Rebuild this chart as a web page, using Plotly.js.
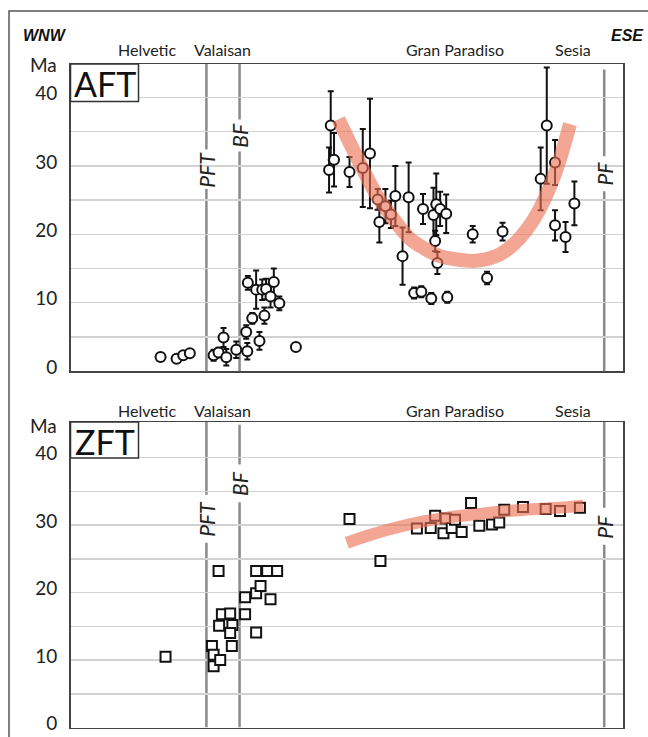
<!DOCTYPE html>
<html>
<head>
<meta charset="utf-8">
<script src="https://cdn.plot.ly/plotly-3.0.1.min.js"></script>
<style>html,body{margin:0;padding:0;background:#fff;}#chart{width:648px;height:737px;}</style>
</head>
<body>
<div id="chart"></div>
<script>
// ---------- data ----------
const regionNames = ['Helvetic', 'Valaisan', 'Gran Paradiso', 'Sesia'];
const regionX = [13.9, 27.5, 69.6, 91.0];

const faultNames = ['PFT', 'BF', 'PF'];
const faultX = [24.6, 30.6, 96.6];

const yTickVals = [0, 5, 10, 15, 20, 25, 30, 35, 40];
const yTickText = ['0', '', '10', '', '20', '', '30', '', '40'];

// AFT ages (Ma) with 1-sigma errors along the WNW-ESE profile
const aftX = [16.3, 19.2, 20.4, 21.6, 25.9, 26.8, 28.2, 27.7, 30.0, 32.0, 31.8, 32.9, 34.2, 35.1,
  32.1, 33.6, 34.7, 35.4, 36.2, 36.8, 37.8, 40.8,
  47.1, 46.8, 47.7, 50.5, 52.9, 54.2, 55.6, 55.9, 57.0, 58.0, 58.8, 61.2, 60.1, 63.8, 65.7, 66.2,
  66.0, 66.9, 68.0, 66.4, 62.2, 63.5, 65.3, 68.2, 72.8, 78.2, 75.4, 86.2, 85.1, 87.7, 87.7, 89.6, 91.2];
const aftAge = [2.05, 1.8, 2.3, 2.6, 2.3, 2.7, 2.0, 4.9, 3.1, 2.9, 5.7, 7.7, 4.4, 8.1,
  12.9, 11.9, 11.9, 12.0, 10.9, 13.0, 9.9, 3.5,
  35.9, 29.4, 30.9, 29.1, 29.7, 31.8, 25.1, 21.8, 24.1, 22.9, 25.6, 25.4, 16.8, 23.7, 22.8, 24.4,
  19.0, 23.7, 23.0, 15.8, 11.4, 11.6, 10.6, 10.8, 20.0, 20.4, 13.6, 35.9, 28.1, 30.5, 21.3, 19.6, 24.5];
const aftErr = [0, 0, 0, 0, 0.8, 0.7, 1.2, 1.4, 1.2, 1.2, 1.0, 0.8, 1.3, 1.2,
  1.0, 2.8, 1.5, 1.5, 1.6, 2.0, 1.0, 0,
  5.0, 3.3, 3.9, 2.2, 5.7, 8.0, 1.5, 3.0, 2.5, 2.0, 4.4, 5.1, 4.2, 2.2, 4.0, 4.5,
  1.5, 2.5, 2.8, 1.6, 0.8, 0.8, 0.8, 0.8, 1.2, 1.3, 0.9, 8.5, 4.6, 3.3, 2.2, 2.2, 3.2];

// AFT trend (orange band)
const aftTrendX = [48.5, 52.0, 55.5, 58.5, 61.5, 64.3, 66.9, 70.0, 72.9, 75.5, 77.8, 80.3, 82.6, 84.8, 86.8, 88.7, 90.4];
const aftTrendAge = [36.8, 31.0, 25.6, 22.2, 19.3, 17.8, 16.8, 16.3, 16.1, 16.4, 17.1, 18.6, 20.7, 23.5, 27.0, 31.3, 36.1];

// ZFT ages (Ma)
const zftX = [17.2, 26.8, 25.6, 25.9, 25.9, 27.1, 26.9, 27.4, 28.9, 29.3, 28.9, 29.2, 31.6, 31.6,
  33.6, 34.4, 36.2, 33.6, 33.6, 35.6, 37.4,
  50.5, 56.1, 62.7, 65.2, 66.0, 67.9, 67.5, 69.0, 69.6, 70.8, 72.5, 74.0, 76.3, 77.6, 78.5, 81.9, 86.0, 88.6, 92.2];
const zftAge = [10.5, 23.2, 12.1, 10.8, 9.1, 10.0, 15.1, 16.8, 16.9, 15.2, 14.0, 12.1, 19.3, 16.8,
  19.9, 21.0, 19.0, 14.1, 23.2, 23.2, 23.2,
  30.9, 24.7, 29.5, 29.6, 31.4, 31.0, 28.8, 29.6, 30.8, 29.0, 33.3, 29.9, 30.1, 30.4, 32.3, 32.7, 32.4, 32.1, 32.6];

// ZFT trend (orange band)
const zftTrendX = [50.0, 54.8, 59.7, 64.2, 68.7, 73.2, 77.8, 82.3, 86.8, 92.8];
const zftTrendAge = [27.4, 28.7, 29.8, 30.6, 31.2, 31.6, 32.0, 32.3, 32.5, 32.9];

// ---------- layout helpers ----------
const W = 648, H = 737;
const px = v => v / W;
const py = v => 1 - v / H;

const FONT = 'Lato, Roboto, "Open Sans", sans-serif';
const trendColor = 'rgba(236,112,82,0.62)';
const faultColor = '#8a8a8a';

const xDomain = [px(70.5), px(623)];
const yTopDomain = [py(371), py(64)];
const yBotDomain = [py(727.5), py(422)];
const yTopRange = [0, 44.9];
const yBotRange = [0, 45.3];

const traces = [
  {
    type: 'scatter', mode: 'markers', x: aftX, y: aftAge, xaxis: 'x', yaxis: 'y',
    error_y: {type: 'data', array: aftErr, visible: true, color: '#111', thickness: 2, width: 3},
    marker: {symbol: 'circle', size: 10, color: '#fff', line: {color: '#111', width: 2}},
    hoverinfo: 'x+y'
  },
  {
    type: 'scatter', mode: 'lines', x: aftTrendX, y: aftTrendAge, xaxis: 'x', yaxis: 'y',
    line: {color: trendColor, width: 14, shape: 'spline'}, hoverinfo: 'skip'
  },
  {
    type: 'scatter', mode: 'markers', x: zftX, y: zftAge, xaxis: 'x2', yaxis: 'y2',
    marker: {symbol: 'square', size: 10, color: '#fff', line: {color: '#111', width: 2}},
    hoverinfo: 'x+y'
  },
  {
    type: 'scatter', mode: 'lines', x: zftTrendX, y: zftTrendAge, xaxis: 'x2', yaxis: 'y2',
    line: {color: trendColor, width: 12, shape: 'spline'}, hoverinfo: 'skip'
  }
];

const shapes = [];
const annotations = [];

// fault lines with label gaps: [fault index, panel, gapLow, gapHigh, top, labelY]
const faultSegs = [
  [0, 'y', 26.6, 32.4, 44.9, 29.5],
  [1, 'y', 32.1, 36.8, 44.9, 34.5],
  [2, 'y', 26.3, 31.4, 44.1, 28.9],
  [0, 'y2', 27.4, 34.5, 45.3, 31.0],
  [1, 'y2', 33.4, 39.0, 44.9, 36.2],
  [2, 'y2', 27.1, 32.6, 45.3, 29.8]
];
faultSegs.forEach(s => {
  const xr = s[1] === 'y' ? 'x' : 'x2';
  const fx = faultX[s[0]];
  shapes.push({type: 'line', xref: xr, yref: s[1], x0: fx, x1: fx, y0: 0, y1: s[2], layer: 'below',
    line: {color: faultColor, width: 2.5}});
  shapes.push({type: 'line', xref: xr, yref: s[1], x0: fx, x1: fx, y0: s[3], y1: s[4], layer: 'below',
    line: {color: faultColor, width: 2.5}});
  annotations.push({xref: xr, yref: s[1], x: fx, y: s[5], text: faultNames[s[0]], showarrow: false,
    textangle: -90, font: {family: FONT, size: 21, color: '#222', style: 'italic'}});
});

// outer frame
shapes.push({type: 'rect', xref: 'paper', yref: 'paper', x0: px(9), x1: 1.05, y0: -0.05, y1: py(11),
  line: {color: '#555', width: 1.5}, fillcolor: 'rgba(0,0,0,0)', layer: 'above'});

// panel label boxes
[['AFT', 64, 101.5], ['ZFT', 422, 458]].forEach(b => {
  shapes.push({type: 'rect', xref: 'paper', yref: 'paper', x0: px(70.5), x1: px(138.5), y0: py(b[2]), y1: py(b[1]),
    line: {color: '#333', width: 1.5}, fillcolor: '#fff', layer: 'above'});
  annotations.push({xref: 'paper', yref: 'paper', x: px(104.5), y: py((b[1] + b[2]) / 2 + 1), text: b[0],
    showarrow: false, xanchor: 'center', yanchor: 'middle', font: {family: FONT, size: 34, color: '#111'}});
});

// region names
[49, 410].forEach((yy, k) => {
  regionNames.forEach((n, i) => {
    annotations.push({xref: k === 0 ? 'x' : 'x2', yref: 'paper', x: regionX[i], y: py(yy), text: n,
      showarrow: false, xanchor: 'center', yanchor: 'middle', font: {family: FONT, size: 16, color: '#222'}});
  });
  annotations.push({xref: 'paper', yref: 'paper', x: px(43), y: py(yy + 15), text: 'Ma', showarrow: false,
    xanchor: 'center', yanchor: 'middle', font: {family: FONT, size: 19, color: '#222'}});
});

annotations.push({xref: 'paper', yref: 'paper', x: px(21), y: py(35), text: '<b><i>WNW</i></b>', showarrow: false,
  xanchor: 'left', yanchor: 'middle', font: {family: '"Liberation Sans", Arial, sans-serif', size: 16, color: '#111'}});
annotations.push({xref: 'paper', yref: 'paper', x: px(646), y: py(35), text: '<b><i>ESE</i></b>', showarrow: false,
  xanchor: 'right', yanchor: 'middle', font: {family: '"Liberation Sans", Arial, sans-serif', size: 16, color: '#111'}});

const xAx = {domain: xDomain, range: [0, 100], showgrid: false, zeroline: false, showticklabels: false,
  ticks: '', showline: true, mirror: true, linecolor: '#444', linewidth: 1.5, fixedrange: true};
const yAx = {tickmode: 'array', tickvals: yTickVals, ticktext: yTickText, showgrid: true,
  gridcolor: '#d2d2d2', gridwidth: 1.5, zeroline: false, showline: true, mirror: true,
  linecolor: '#444', linewidth: 1.5, ticks: 'outside', ticklen: 8, tickcolor: 'rgba(0,0,0,0)',
  tickfont: {family: FONT, size: 19, color: '#222'}, ticklabelshift: -4, ticklabeloverflow: 'allow',
  fixedrange: true};

const layout = {
  width: W, height: H, margin: {l: 0, r: 0, t: 0, b: 0},
  paper_bgcolor: '#fff', plot_bgcolor: '#fff', showlegend: false,
  font: {family: FONT},
  xaxis: Object.assign({}, xAx, {anchor: 'y'}),
  xaxis2: Object.assign({}, xAx, {anchor: 'y2'}),
  yaxis: Object.assign({}, yAx, {domain: yTopDomain, range: yTopRange, anchor: 'x'}),
  yaxis2: Object.assign({}, yAx, {domain: yBotDomain, range: yBotRange, anchor: 'x2'}),
  shapes: shapes,
  annotations: annotations
};

Plotly.newPlot('chart', traces, layout, {displayModeBar: false, staticPlot: true});
</script>
</body>
</html>
